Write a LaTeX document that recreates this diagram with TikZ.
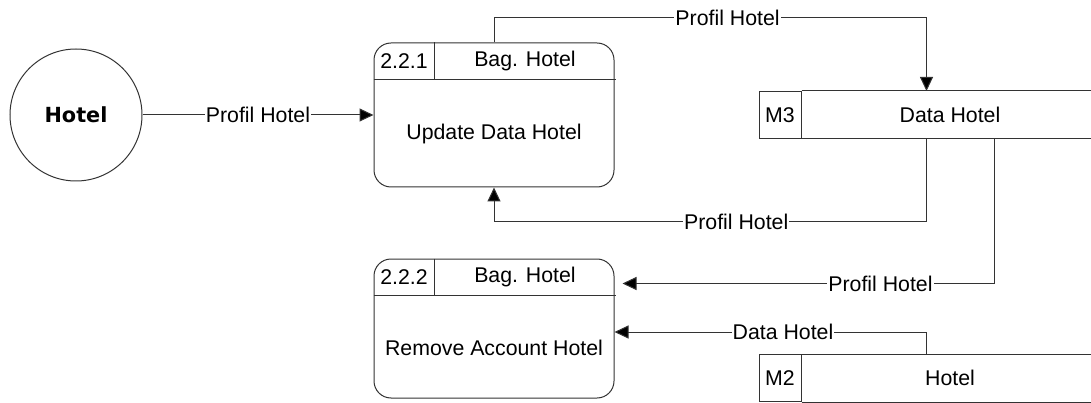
\documentclass[tikz,border=0pt]{standalone}
\usepackage{fontspec}
\setmainfont{Liberation Sans}
\newfontfamily\entityfont{DejaVu Sans}
\usetikzlibrary{positioning,arrows.meta}

\tikzstyle{entity} = [circle, draw=black!80, minimum size=132pt, inner sep=0pt,
font=\entityfont\bfseries\fontsize{20.8}{24}\selectfont]
\tikzstyle{process} = [rectangle, rounded corners=17pt, draw=black!80,
minimum width=240pt, minimum height=144pt]
\tikzstyle{procid} = [rectangle, minimum width=60pt, minimum height=36pt, inner sep=0pt]
\tikzstyle{procdept} = [rectangle, minimum width=180pt, minimum height=36pt, inner sep=0pt]
\tikzstyle{procname} = [rectangle, minimum width=240pt, minimum height=108pt, inner sep=0pt]
\tikzstyle{storeid} = [rectangle, draw=black!80, minimum width=42pt, minimum height=47pt, inner sep=0pt]
\tikzstyle{store} = [rectangle, minimum width=296pt, minimum height=47pt, inner sep=0pt]
\tikzstyle{arrow} = [draw=black!80, -{Triangle[length=14pt,width=13pt,fill=black]}]
\tikzstyle{line} = [draw=black!80]
\tikzstyle{flowlabel} = [fill=white, inner sep=1pt]

\begin{document}
\begin{tikzpicture}[x=1pt, y=1pt, font=\fontsize{21.3}{25}\selectfont, line width=1pt]
    \useasboundingbox (0,0) rectangle (1091,-403);

    \node (hotel) [entity] at (76,-115) {Hotel};

    % process 2.2.1
    \node (p1) [process, right=231pt of hotel] {};
    \node (p1id) [procid, anchor=north west] at (p1.north west) {2.2.1};
    \node (p1dept) [procdept, right=0pt of p1id] {Bag. Hotel};
    \node (p1name) [procname, below right=0pt and 0pt of p1id.south west] {Update Data Hotel};
    \draw [line] (p1id.south west) -- (p1dept.south east);
    \draw [line] (p1id.north east) -- (p1id.south east);

    % process 2.2.2
    \node (p2) [process, minimum height=139pt, below=71pt of p1] {};
    \node (p2id) [procid, anchor=north west] at (p2.north west) {2.2.2};
    \node (p2dept) [procdept, right=0pt of p2id] {Bag. Hotel};
    \node (p2name) [procname, minimum height=103pt, below right=0pt and 0pt of p2id.south west] {Remove Account Hotel};
    \draw [line] (p2id.south west) -- (p2dept.south east);
    \draw [line] (p2id.north east) -- (p2id.south east);

    % data stores
    \node (m3id) [storeid, right=144pt of p1] {M3};
    \node (m3) [store, right=0pt of m3id] {Data Hotel};
    \draw [line] (m3.north west) -- (m3.north east);
    \draw [line] (m3.south west) -- (m3.south east);
    \node (m2id) [storeid, below=215pt of m3id] {M2};
    \node (m2) [store, right=0pt of m2id] {Hotel};
    \draw [line] (m2.north west) -- (m2.north east);
    \draw [line] (m2.south west) -- (m2.south east);

    \coordinate (m3in) at ([xshift=125pt]m3.north west);
    \coordinate (m3out1) at ([xshift=125pt]m3.south west);
    \coordinate (m3out2) at ([xshift=193pt]m3.south west);
    \coordinate (m2out) at ([xshift=125pt]m2.north west);

    \draw [arrow] (hotel) -- node[flowlabel] {Profil Hotel} (p1);
    \draw [arrow] (p1.north) -- ++(0,25) -| node[flowlabel, pos=0.27] {Profil Hotel} (m3in);
    \draw [arrow] (m3out1) -- ++(0,-83) -| node[flowlabel, pos=0.22] {Profil Hotel} (p1.south);
    \draw [arrow, shorten >=8pt] (m3out2) |- node[flowlabel, pos=0.65] {Profil Hotel} ([yshift=45pt]p2.east);
    \draw [arrow] (m2out) |- node[flowlabel, pos=0.73] {Data Hotel} ([yshift=-3.5pt]p2.east);
\end{tikzpicture}
\end{document}
